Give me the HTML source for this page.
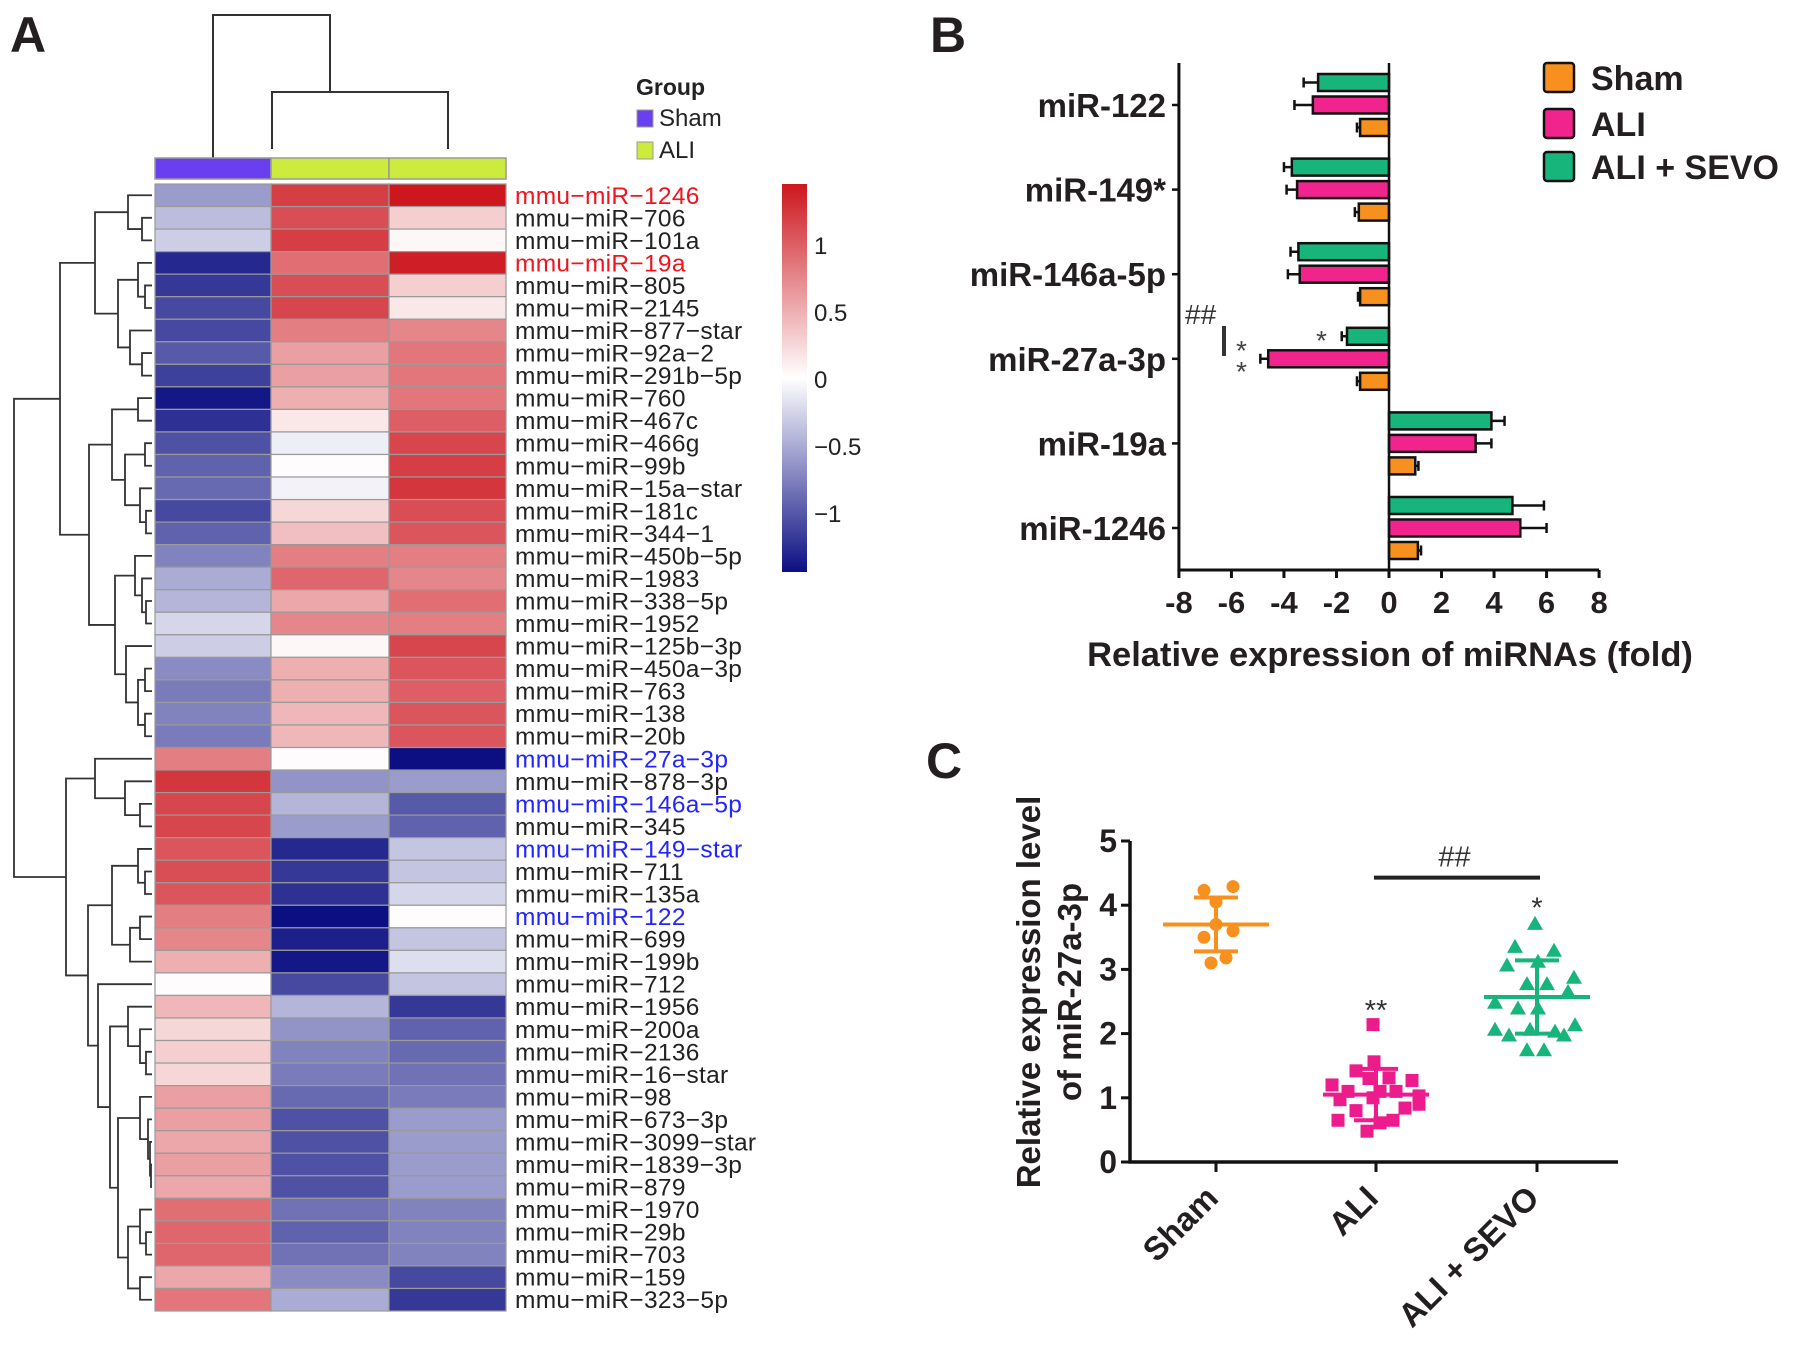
<!DOCTYPE html>
<html><head><meta charset="utf-8"><style>
html,body{margin:0;padding:0;background:#fff}
svg{display:block;font-family:"Liberation Sans",Arial,sans-serif}
</style></head><body>
<svg id="fig" width="1795" height="1350" viewBox="0 0 1795 1350">
<g id="pa"></g>
<g id="pb"></g>
<g id="pc"></g>
</svg>
<script>
// ---------- Panel A data ----------
const mirNames = ["mmu-miR-1246","mmu-miR-706","mmu-miR-101a","mmu-miR-19a","mmu-miR-805","mmu-miR-2145","mmu-miR-877-star","mmu-miR-92a-2","mmu-miR-291b-5p","mmu-miR-760","mmu-miR-467c","mmu-miR-466g","mmu-miR-99b","mmu-miR-15a-star","mmu-miR-181c","mmu-miR-344-1","mmu-miR-450b-5p","mmu-miR-1983","mmu-miR-338-5p","mmu-miR-1952","mmu-miR-125b-3p","mmu-miR-450a-3p","mmu-miR-763","mmu-miR-138","mmu-miR-20b","mmu-miR-27a-3p","mmu-miR-878-3p","mmu-miR-146a-5p","mmu-miR-345","mmu-miR-149-star","mmu-miR-711","mmu-miR-135a","mmu-miR-122","mmu-miR-699","mmu-miR-199b","mmu-miR-712","mmu-miR-1956","mmu-miR-200a","mmu-miR-2136","mmu-miR-16-star","mmu-miR-98","mmu-miR-673-3p","mmu-miR-3099-star","mmu-miR-1839-3p","mmu-miR-879","mmu-miR-1970","mmu-miR-29b","mmu-miR-703","mmu-miR-159","mmu-miR-323-5p"];
const heatSham = [-0.6,-0.4,-0.3,-1.3,-1.2,-1.1,-1.1,-1.0,-1.15,-1.4,-1.25,-1.05,-0.95,-0.9,-1.1,-0.95,-0.75,-0.5,-0.45,-0.25,-0.3,-0.7,-0.8,-0.75,-0.8,0.8,1.25,1.15,1.15,1.05,1.1,1.05,0.8,0.75,0.5,0.02,0.45,0.25,0.3,0.25,0.6,0.6,0.55,0.6,0.55,0.9,0.95,0.95,0.55,0.85];
const heatAli1 = [1.2,1.1,1.2,0.9,1.1,1.15,0.8,0.6,0.6,0.5,0.15,-0.1,0.02,-0.08,0.25,0.4,0.8,0.95,0.55,0.75,0.05,0.5,0.5,0.45,0.45,0.02,-0.65,-0.45,-0.6,-1.3,-1.2,-1.25,-1.45,-1.35,-1.4,-1.1,-0.45,-0.65,-0.75,-0.8,-0.9,-1.05,-1.05,-1.05,-1.05,-0.85,-0.95,-0.85,-0.7,-0.5];
const heatAli2 = [1.45,0.3,0.05,1.4,0.3,0.15,0.75,0.85,0.85,0.85,1.0,1.15,1.2,1.25,1.1,1.05,0.8,0.75,0.9,0.8,1.15,1.05,1.0,1.05,1.05,-1.45,-0.6,-1.0,-0.95,-0.35,-0.35,-0.25,0.02,-0.35,-0.2,-0.35,-1.2,-0.95,-0.9,-0.85,-0.8,-0.6,-0.6,-0.6,-0.6,-0.75,-0.75,-0.75,-1.1,-1.2];
const redLabels = [0,3];
const blueLabels = [25,27,29,32];
const cbarTicks = [1,0.5,0,-0.5,-1];
const cbarLabels = ["1","0.5","0","\u22120.5","\u22121"];
const rowTree = [14,
 [60,
  [95,[128,0,[142,1,2]],[118,[138,3,[145,4,5]],[130,6,[142,7,8]]]],
  [89,[112,[138,9,10],[125,[145,11,12],[140,13,[146,14,15]]]],
      [115,[135,16,[142,17,[146,18,19]]],[126,20,[138,[145,21,22],[145,23,24]]]]]],
 [66,
  [95,25,[125,26,[140,27,28]]],
  [88,[112,[138,29,[145,30,31]],[130,[140,32,33],34]],
      [98,35,[110,[128,36,[140,37,[146,38,39]]],[118,[140,40,[148,41,[150,42,[151,43,44]]]],[128,[140,45,[146,46,47]],[140,48,49]]]]]]]];

// ---------- Panel B data ----------
const barCats = ["miR-122","miR-149*","miR-146a-5p","miR-27a-3p","miR-19a","miR-1246"];
const barSham = [-1.1,-1.15,-1.1,-1.1,1.0,1.1];
const barShamErr = [0.12,0.15,0.08,0.12,0.12,0.12];
const barAli = [-2.9,-3.5,-3.4,-4.6,3.3,5.0];
const barAliErr = [0.7,0.4,0.45,0.3,0.6,1.0];
const barSevo = [-2.7,-3.7,-3.45,-1.6,3.9,4.7];
const barSevoErr = [0.55,0.3,0.3,0.2,0.5,1.2];
const barTicks = [-8,-6,-4,-2,0,2,4,6,8];

// ---------- Panel C data ----------
const scatGroups = ["Sham","ALI","ALI + SEVO"];
const shamVals = [4.23,4.29,4.05,3.5,3.6,3.7,3.1,3.18];
const shamJit = [-12,17,0,-12,17,0,-5,10];
const aliVals = [2.14,1.56,1.42,1.31,1.27,1.2,1.3,1.1,1.1,1.1,1.03,0.97,1.0,0.84,0.8,0.65,0.61,0.65,0.48,0.9];
const aliJit = [-3,-2,-20,13,36,-44,-7,-28,4,20,43,-36,-3,29,-20,-38,4,17,-9,43];
const sevoVals = [3.71,3.35,3.29,3.06,3.12,2.87,2.77,2.77,2.65,2.48,2.39,2.39,2.13,1.97,2.06,2.03,1.97,1.74,1.74,2.06];
const sevoJit = [-2,-22,17,-30,1,37,-10,10,31,-42,-19,1,38,-28,-7,18,27,-10,7,-42];
const scatMean = [3.7,1.05,2.57];
const scatSd = [0.42,0.4,0.57];
const scatTicks = [0,1,2,3,4,5];

const NS="http://www.w3.org/2000/svg";
function mk(parent,tag,attrs,text){const e=document.createElementNS(NS,tag);for(const k in attrs)e.setAttribute(k,attrs[k]);if(text!==undefined)e.textContent=text;parent.appendChild(e);return e;}

// ================= Panel A =================
(function(){
 const g=document.getElementById('pa');
 const colX=[155,271,389,506], rowTop=184, rowH=22.54;
 const yRow=i=>rowTop+i*rowH;
 function heatColor(v){
  const t=Math.max(-1,Math.min(1,v/1.45));
  let r,gg,b;
  if(t>=0){r=255+(205-255)*t;gg=255+(22-255)*t;b=255+(30-255)*t;}
  else{const s=-t;r=255+(12-255)*s;gg=255+(15-255)*s;b=255+(130-255)*s;}
  return `rgb(${Math.round(r)},${Math.round(gg)},${Math.round(b)})`;
 }
 let e=mk(g,'text',{x:10,y:52,'font-size':50,'font-weight':'bold',fill:'#231f20'},'A');
 
 const cd=mk(g,'path',{d:'M213,158 V15 H330 V92 M272,149 V92 H448 V149',fill:'none',stroke:'#333','stroke-width':2});
 
 const gcols=['#6a3ff0','#cdeb3c','#cdeb3c'];
 for(let c=0;c<3;c++){
  const r=mk(g,'rect',{x:colX[c],y:158,width:colX[c+1]-colX[c],height:21,fill:gcols[c],stroke:'#999','stroke-width':1.5});
  
 }
 const series=[heatSham,heatAli1,heatAli2];
 for(let i=0;i<mirNames.length;i++){
  for(let c=0;c<3;c++){
   const r=mk(g,'rect',{x:colX[c],y:yRow(i),width:colX[c+1]-colX[c],height:rowH,fill:heatColor(series[c][i]),stroke:'#9a9a9a','stroke-width':1.2});
   
  }
  let col='#222';if(redLabels.includes(i))col='#f0141e';if(blueLabels.includes(i))col='#2424ff';
  const t=mk(g,'text',{x:515,y:yRow(i)+rowH/2+8.5,'font-size':24.5,fill:col,'letter-spacing':0.3},mirNames[i].replace(/-/g,'\u2212'));
  
 }
 let d='';
 function walk(n){
  if(typeof n==='number')return{x:152,y:yRow(n)+rowH/2};
  const a=walk(n[1]),b=walk(n[2]),h=n[0];
  d+=`M${a.x},${a.y}H${h}V${b.y}H${b.x}`;
  return{x:h,y:(a.y+b.y)/2};
 }
 walk(rowTree);
 const rd=mk(g,'path',{d:d,fill:'none',stroke:'#333','stroke-width':1.8});
 
 e=mk(g,'text',{x:636,y:95,'font-size':23,'font-weight':'bold',fill:'#222'},'Group');
 
 const leg=[['Sham','#6a3ff0',110],['ALI','#cdeb3c',142]];
 leg.forEach(l=>{
  const r=mk(g,'rect',{x:637,y:l[2],width:16,height:17,fill:l[1],stroke:'#999','stroke-width':1});
  
  const t=mk(g,'text',{x:659,y:l[2]+16,'font-size':24,fill:'#222'},l[0]);
  
 });
 const defs=mk(g,'defs',{});
 const lg=mk(defs,'linearGradient',{id:'cb',x1:0,y1:0,x2:0,y2:1});
 for(let k=0;k<=20;k++){const v=1.45-2.9*k/20;mk(lg,'stop',{offset:(k/20),'stop-color':heatColor(v)});}
 const cb=mk(g,'rect',{x:782,y:184,width:25,height:388,fill:'url(#cb)'});
 
 const cy=v=>379-v*134;
 cbarTicks.forEach((v,i)=>{
  const t=mk(g,'text',{x:814,y:cy(v)+9,'font-size':24,fill:'#222'},cbarLabels[i]);
  
 });
})();

// ================= Panel B =================
(function(){
 const g=document.getElementById('pb');
 const x0=1389, unit=26.26, axY=570, axTop=63;
 const xs=v=>x0+v*unit;
 const catY=i=>105+i*84.6;
 let e=mk(g,'text',{x:930,y:52,'font-size':50,'font-weight':'bold',fill:'#231f20'},'B');
 
 const sets=[[barSevo,barSevoErr,'#17b47b',-22.5,'bar-ali-sevo'],[barAli,barAliErr,'#f0248c',0,'bar-ali'],[barSham,barShamErr,'#f7901e',22.5,'bar-sham']];
 barCats.forEach((c,i)=>{
  sets.forEach(s=>{
   const v=s[0][i],er=s[1][i],yc=catY(i)+s[3],h=17;
   const xa=Math.min(xs(0),xs(v)),w=Math.abs(xs(v)-xs(0));
   const r=mk(g,'rect',{x:xa,y:yc-h/2,width:w,height:h,fill:s[2],stroke:'#111','stroke-width':2.5});
   
   const sg=v<0?-1:1;const xe=xs(v+sg*er);
   const eb=mk(g,'path',{d:`M${xs(v)},${yc}H${xe}M${xe},${yc-5}V${yc+5}`,stroke:'#111','stroke-width':2.5,fill:'none'});
   
  });
  const tk=mk(g,'line',{x1:1172,x2:1179,y1:catY(i),y2:catY(i),stroke:'#111','stroke-width':2.5});
  
  const t=mk(g,'text',{x:1166,y:catY(i)+12,'font-size':33,'font-weight':'bold','text-anchor':'end',fill:'#231f20'},c);
  
 });
 const zl=mk(g,'line',{x1:x0,x2:x0,y1:axTop,y2:axY,stroke:'#111','stroke-width':2.5});
 
 const ax=mk(g,'path',{d:`M${xs(-8)},${axTop}V${axY}H${xs(8)}`,stroke:'#111','stroke-width':3,fill:'none'});
 
 barTicks.forEach(v=>{
  const tk=mk(g,'line',{x1:xs(v),x2:xs(v),y1:axY,y2:axY+8,stroke:'#111','stroke-width':3});
  
  const t=mk(g,'text',{x:xs(v),y:613,'font-size':31,'font-weight':'bold','text-anchor':'middle',fill:'#231f20'},String(v));
  
 });
 e=mk(g,'text',{x:1390,y:666,'font-size':34.5,'font-weight':'bold','text-anchor':'middle',fill:'#231f20'},'Relative expression of miRNAs (fold)');
 
 e=mk(g,'text',{x:1185,y:324,'font-size':28,fill:'#333'},'##');
 e=mk(g,'line',{x1:1224,x2:1224,y1:326,y2:356,stroke:'#333','stroke-width':4});
 e=mk(g,'text',{x:1316,y:350,'font-size':28,fill:'#444'},'*');
 e=mk(g,'text',{x:1236,y:360,'font-size':28,fill:'#444'},'*');
 e=mk(g,'text',{x:1236,y:381,'font-size':28,fill:'#444'},'*');
 const leg=[['Sham','#f7901e',63],['ALI','#f0248c',109],['ALI + SEVO','#17b47b',152]];
 leg.forEach(l=>{
  const r=mk(g,'rect',{x:1544,y:l[2],width:30,height:29,rx:3,fill:l[1],stroke:'#111','stroke-width':2.5});
  
  const t=mk(g,'text',{x:1591,y:l[2]+27,'font-size':34,'font-weight':'bold',fill:'#231f20'},l[0]);
  
 });
})();

// ================= Panel C =================
(function(){
 const g=document.getElementById('pc');
 const ax0=1130,y0=1162,unit=64.2;
 const ys=v=>y0-v*unit;
 const gx=[1216,1376,1537];
 let e=mk(g,'text',{x:926,y:778,'font-size':50,'font-weight':'bold',fill:'#231f20'},'C');
 
 const ax=mk(g,'path',{d:`M${ax0},${ys(5)}V${y0}H1618`,stroke:'#111','stroke-width':3.5,fill:'none'});
 
 scatTicks.forEach(v=>{
  const tk=mk(g,'line',{x1:ax0-9,x2:ax0,y1:ys(v),y2:ys(v),stroke:'#111','stroke-width':3});
  
  const t=mk(g,'text',{x:1117,y:ys(v)+11,'font-size':32,'font-weight':'bold','text-anchor':'end',fill:'#231f20'},String(v));
  
 });
 scatGroups.forEach((n,i)=>{
  const tk=mk(g,'line',{x1:gx[i],x2:gx[i],y1:y0,y2:y0+10,stroke:'#111','stroke-width':3});
  
  const t=mk(g,'text',{x:gx[i]+4,y:y0+38,'font-size':33,'font-weight':'bold','text-anchor':'end',fill:'#231f20',transform:`rotate(-45 ${gx[i]+4} ${y0+38})`},n);
  
 });
 e=mk(g,'text',{x:0,y:0,'font-size':33,'font-weight':'bold','text-anchor':'middle',fill:'#231f20',transform:'translate(1040,992) rotate(-90)'},'Relative expression level');
 
 e=mk(g,'text',{x:0,y:0,'font-size':33,'font-weight':'bold','text-anchor':'middle',fill:'#231f20',transform:'translate(1081,992) rotate(-90)'},'of miR-27a-3p');
 
 const cols=['#f7901e','#ec1c8c','#17b47b'];
 const groups=[[shamVals,shamJit,'circle'],[aliVals,aliJit,'square'],[sevoVals,sevoJit,'triangle']];
 groups.forEach((gr,i)=>{
  gr[0].forEach((v,k)=>{
   const x=gx[i]+gr[1][k],y=ys(v);let p;
   if(gr[2]==='circle')p=mk(g,'circle',{cx:x,cy:y,r:6.5,fill:cols[i]});
   else if(gr[2]==='square')p=mk(g,'rect',{x:x-6.5,y:y-6.5,width:13,height:13,fill:cols[i]});
   else p=mk(g,'polygon',{points:`${x},${y-8} ${x+8},${y+6} ${x-8},${y+6}`,fill:cols[i]});
   
  });
  const m=scatMean[i],s=scatSd[i];
  const ml=mk(g,'path',{d:`M${gx[i]-53},${ys(m)}H${gx[i]+53}M${gx[i]},${ys(m+s)}V${ys(m-s)}M${gx[i]-22},${ys(m+s)}H${gx[i]+22}M${gx[i]-22},${ys(m-s)}H${gx[i]+22}`,stroke:cols[i],'stroke-width':4,fill:'none'});
  
 });
 e=mk(g,'line',{x1:gx[1]-2,x2:gx[2]+3,y1:ys(4.43),y2:ys(4.43),stroke:'#222','stroke-width':4});
 
 e=mk(g,'text',{x:(gx[1]+gx[2])/2-2,y:ys(4.6),'font-size':29,'text-anchor':'middle',fill:'#333'},'##');
 
 e=mk(g,'text',{x:gx[1],y:ys(2.35)+9,'font-size':29,'text-anchor':'middle',fill:'#333'},'**');
 
 e=mk(g,'text',{x:gx[2],y:ys(3.95)+9,'font-size':29,'text-anchor':'middle',fill:'#333'},'*');
 
})();
</script>
</body></html>
